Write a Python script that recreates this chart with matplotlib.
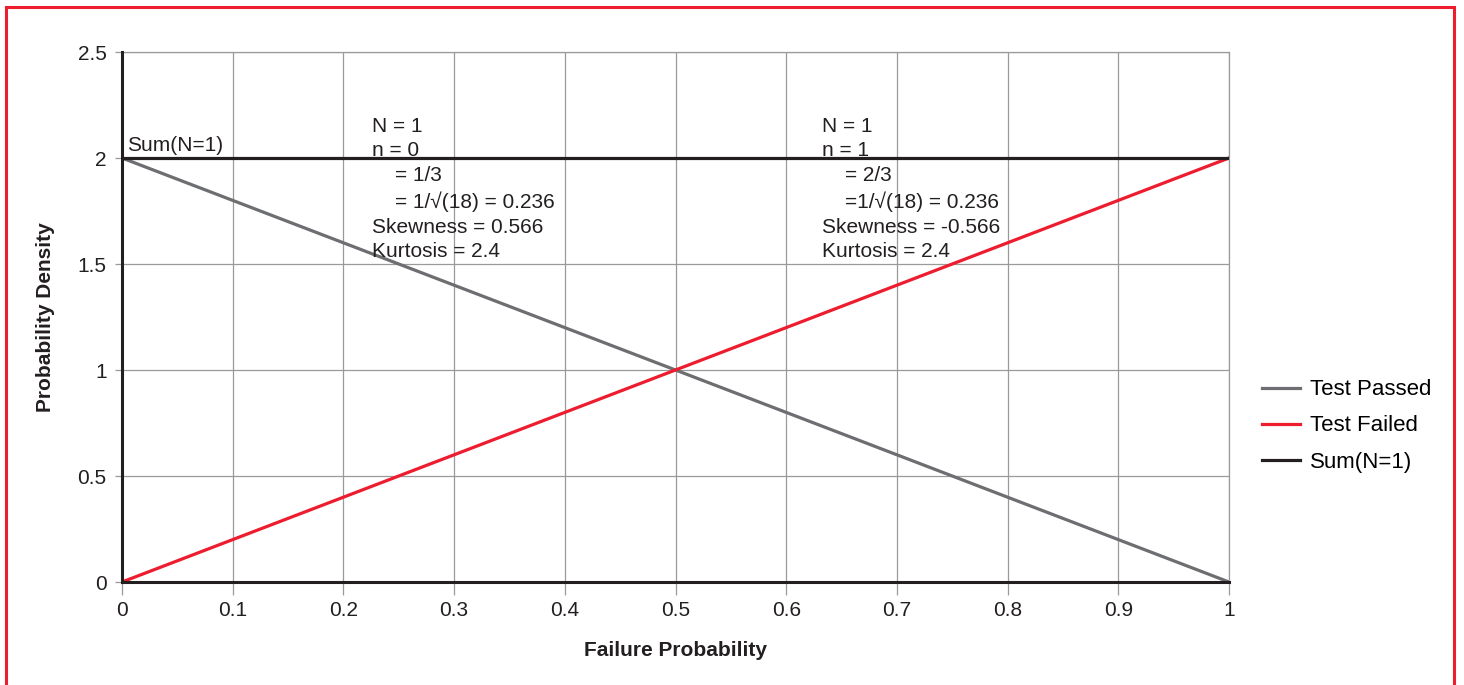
import matplotlib
matplotlib.use("Agg")
import matplotlib.pyplot as plt
import matplotlib.patches as mpatches

plt.rcParams["font.family"] = ["Liberation Sans", "DejaVu Sans"]

# ── data ─────────────────────────────────────────────
fail_prob = [0.0, 1.0]
test_passed = [2.0, 0.0]
test_failed = [0.0, 2.0]
sum_n1 = [2.0, 2.0]

x_ticks = [0, 0.1, 0.2, 0.3, 0.4, 0.5, 0.6, 0.7, 0.8, 0.9, 1]
x_labels = ["0", "0.1", "0.2", "0.3", "0.4", "0.5", "0.6", "0.7", "0.8", "0.9", "1"]
y_ticks = [0, 0.5, 1, 1.5, 2, 2.5]
y_labels = ["0", "0.5", "1", "1.5", "2", "2.5"]

note_left = "N = 1\nn = 0\n    = 1/3\n    = 1/\u221a(18) = 0.236\nSkewness = 0.566\nKurtosis = 2.4"
note_right = "N = 1\nn = 1\n    = 2/3\n    =1/\u221a(18) = 0.236\nSkewness = -0.566\nKurtosis = 2.4"

GRAY = "#6d6e71"
RED = "#ed1c2e"
BLACK = "#231f20"
GRID = "#9a9a9a"
FS = 15

fig = plt.figure(figsize=(14.64, 6.85), dpi=100)
ax = fig.add_axes([122 / 1464, 1 - 582 / 685, (1229 - 122) / 1464, (582 - 52) / 685])

ax.plot(fail_prob, test_passed, color=GRAY, lw=2.3, label="Test Passed", zorder=3)
ax.plot(fail_prob, test_failed, color=RED, lw=2.3, label="Test Failed", zorder=3)
ax.plot(fail_prob, sum_n1, color=BLACK, lw=2.3, label="Sum(N=1)", zorder=4)

ax.set_xlim(0, 1)
ax.set_ylim(0, 2.5)
ax.set_xticks(x_ticks)
ax.set_xticklabels(x_labels)
ax.set_yticks(y_ticks)
ax.set_yticklabels(y_labels)
ax.grid(True, color=GRID, lw=0.9, zorder=1)
ax.set_axisbelow(True)

ax.tick_params(axis="x", direction="out", length=9, width=0.9, color=GRID,
               labelsize=FS, labelcolor=BLACK, pad=5)
ax.tick_params(axis="y", direction="out", length=5, width=0.9, color=GRID,
               labelsize=FS, labelcolor=BLACK, pad=6)

for side in ["left", "bottom"]:
    ax.spines[side].set_color(BLACK)
    ax.spines[side].set_linewidth(2.2)
    ax.spines[side].set_zorder(5)
for side in ["top", "right"]:
    ax.spines[side].set_color(GRID)
    ax.spines[side].set_linewidth(0.9)

ax.set_xlabel("Failure Probability", fontsize=FS, fontweight="bold", color=BLACK, labelpad=15)
ax.set_ylabel("Probability Density", fontsize=FS, fontweight="bold", color=BLACK, labelpad=16)

ax.text(0.005, 2.012, "Sum(N=1)", fontsize=FS, color=BLACK, ha="left", va="bottom")
ax.text(0.226, 2.195, note_left, fontsize=FS, color=BLACK, ha="left", va="top",
        linespacing=1.38)
ax.text(0.632, 2.195, note_right, fontsize=FS, color=BLACK, ha="left", va="top",
        linespacing=1.38)

fig.legend(loc="center left", bbox_to_anchor=(1242 / 1464, 1 - 426 / 685),
           frameon=False, fontsize=16, handlelength=1.7, handletextpad=0.45,
           labelspacing=0.68)

# red frame around the figure
frame = mpatches.Rectangle((6 / 1464, -0.05), (1454 - 6) / 1464, 1.05 - 7 / 685,
                           transform=fig.transFigure, fill=False,
                           edgecolor=RED, lw=2.2, clip_on=False)
fig.patches.append(frame)

fig.savefig("out.png", dpi=100, facecolor="white")
